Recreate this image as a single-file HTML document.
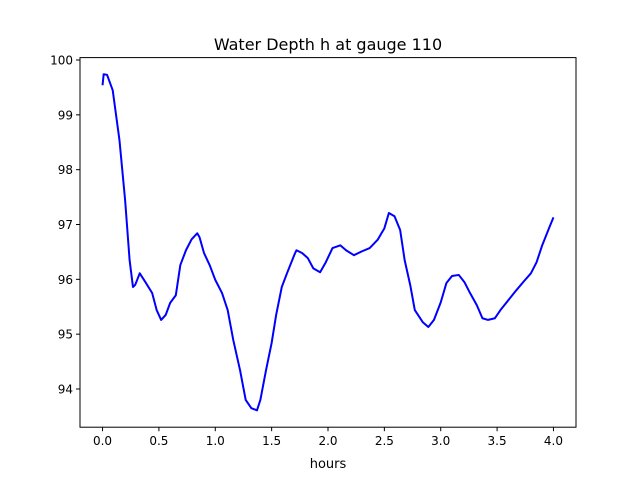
<!DOCTYPE html>
<html><head><meta charset="utf-8"><style>
body{margin:0;background:#fff;}
svg{display:block;font-family:"DejaVu Sans","Liberation Sans",sans-serif;}
</style></head><body>
<svg id="chart" width="640" height="480">
<rect width="640" height="480" fill="#fff"/>
<text x="328" y="50" font-size="16" text-anchor="middle">Water Depth h at gauge 110</text>
<g id="plot"></g>
<rect x="80" y="57.6" width="496" height="369.6" fill="none" stroke="#000" stroke-width="1"/>
<text x="328" y="468" font-size="13" text-anchor="middle">hours</text>
</svg>
<script>
const hours=[0.0,0.01,0.04,0.09,0.15,0.2,0.24,0.27,0.29,0.33,0.38,0.44,0.48,0.52,0.56,0.6,0.65,0.69,0.74,0.79,0.84,0.86,0.9,0.95,1.0,1.06,1.11,1.16,1.22,1.27,1.32,1.37,1.4,1.45,1.5,1.54,1.59,1.64,1.7,1.72,1.77,1.82,1.87,1.93,1.98,2.04,2.11,2.16,2.23,2.3,2.37,2.44,2.5,2.54,2.59,2.64,2.68,2.73,2.77,2.84,2.89,2.94,3.0,3.05,3.1,3.16,3.21,3.26,3.32,3.37,3.42,3.48,3.53,3.6,3.67,3.74,3.8,3.85,3.9,3.96,4.0];
const depth=[99.54,99.74,99.73,99.45,98.54,97.45,96.35,95.86,95.9,96.11,95.95,95.75,95.44,95.26,95.35,95.57,95.71,96.26,96.53,96.73,96.84,96.77,96.48,96.26,95.99,95.75,95.44,94.89,94.34,93.8,93.65,93.61,93.8,94.34,94.84,95.35,95.86,96.13,96.44,96.53,96.48,96.39,96.2,96.13,96.31,96.57,96.62,96.53,96.44,96.51,96.57,96.72,96.93,97.21,97.15,96.9,96.35,95.89,95.44,95.22,95.13,95.26,95.58,95.93,96.06,96.08,95.95,95.75,95.53,95.29,95.26,95.29,95.44,95.62,95.8,95.97,96.11,96.31,96.62,96.93,97.13];
const xTicks=[0.0,0.5,1.0,1.5,2.0,2.5,3.0,3.5,4.0];
const xTickLabels=["0.0","0.5","1.0","1.5","2.0","2.5","3.0","3.5","4.0"];
const yTicks=[94,95,96,97,98,99,100];
const yTickLabels=["94","95","96","97","98","99","100"];
const L=80,R=576,T=57.6,B=427.2,x0=-0.2,x1=4.2,y0=93.303,y1=100.044;
const sx=v=>L+(v-x0)/(x1-x0)*(R-L);
const sy=v=>B-(v-y0)/(y1-y0)*(B-T);
const NS="http://www.w3.org/2000/svg";
const g=document.getElementById('plot');
function mk(t,a){const e=document.createElementNS(NS,t);for(const k in a)e.setAttribute(k,a[k]);return e;}
xTicks.forEach((v,i)=>{
  const l=mk('line',{x1:sx(v),x2:sx(v),y1:B,y2:B+4,stroke:'#000'});
  
  
  g.appendChild(l);
  const t=mk('text',{x:sx(v),y:B+18,'font-size':12,'text-anchor':'middle'});
  
  
  t.textContent=xTickLabels[i];g.appendChild(t);
});
yTicks.forEach((v,i)=>{
  const l=mk('line',{x1:L-4,x2:L,y1:sy(v),y2:sy(v),stroke:'#000'});
  
  
  g.appendChild(l);
  const t=mk('text',{x:L-7,y:sy(v)+4.5,'font-size':12,'text-anchor':'end'});
  
  
  t.textContent=yTickLabels[i];g.appendChild(t);
});
const p=mk('polyline',{points:hours.map((h,i)=>sx(h)+','+sy(depth[i])).join(' '),fill:'none',stroke:'#0000ff','stroke-width':2,'stroke-linejoin':'round'});


g.appendChild(p);
</script>
</body></html>
